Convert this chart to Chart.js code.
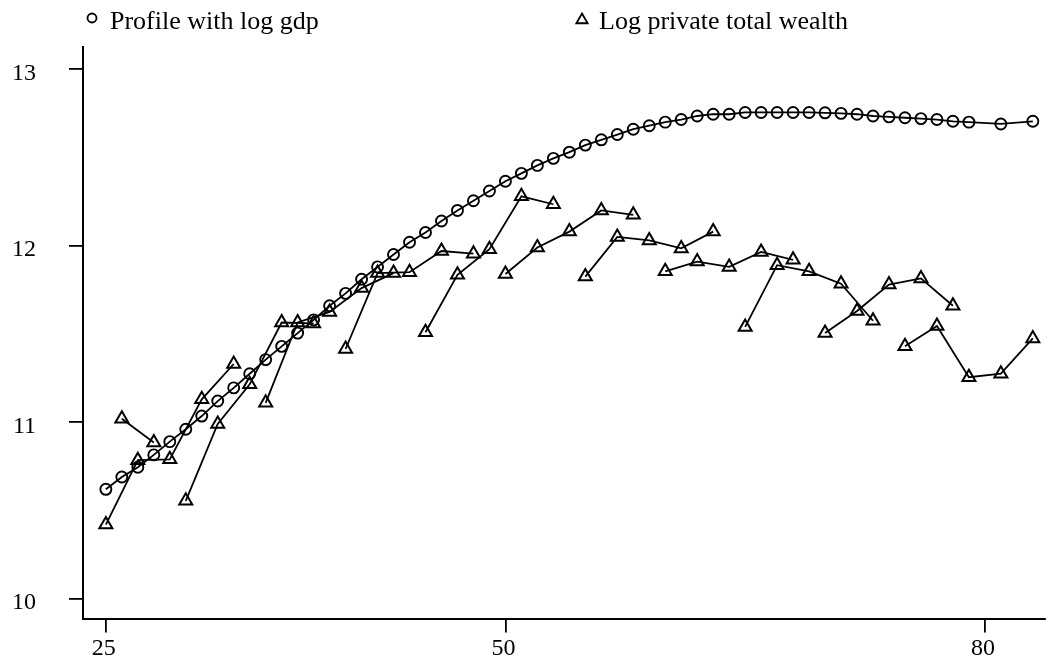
<!DOCTYPE html>
<html>
<head>
<meta charset="utf-8">
<title>Wealth profile by age</title>
<script src="https://cdn.jsdelivr.net/npm/chart.js@4/dist/chart.umd.min.js"></script>
<style>
  html, body { margin: 0; padding: 0; background: #fff; }
  #wrap { width: 1054px; height: 666px; }
</style>
</head>
<body>
<div id="wrap"><canvas id="profileChart" width="1054" height="666"></canvas></div>
<script>
(function () {
  "use strict";

  // age profile fitted with log gdp (one point per age)
  var gdpAges = [
    25, 26, 27, 28, 29, 30, 31, 32, 33, 34,
    35, 36, 37, 38, 39, 40, 41, 42, 43, 44,
    45, 46, 47, 48, 49, 50, 51, 52, 53, 54,
    55, 56, 57, 58, 59, 60, 61, 62, 63, 64,
    65, 66, 67, 68, 69, 70, 71, 72, 73, 74,
    75, 76, 77, 78, 79, 81, 83
  ];
  var gdpProfile = [
    10.62, 10.69, 10.745, 10.815, 10.89, 10.96, 11.035, 11.12, 11.195, 11.275,
    11.355, 11.43, 11.505, 11.58, 11.66, 11.73, 11.81, 11.88, 11.95, 12.02,
    12.075, 12.14, 12.2, 12.255, 12.31, 12.365, 12.41, 12.455, 12.495, 12.53,
    12.57, 12.6, 12.63, 12.66, 12.68, 12.7, 12.715, 12.735, 12.745, 12.745,
    12.755, 12.755, 12.755, 12.755, 12.755, 12.753, 12.75, 12.745, 12.735, 12.73,
    12.725, 12.72, 12.715, 12.705, 12.7, 12.69, 12.705
  ];

  // log private total wealth, one row per cohort
  var wealthAges = [
    [26, 28],
    [25, 27, 29, 31, 33],
    [30, 32, 34, 36, 38],
    [35, 37, 39, 41, 43],
    [40, 42, 44, 46, 48],
    [45, 47, 49, 51, 53],
    [50, 52, 54, 56, 58],
    [55, 57, 59, 61, 63],
    [60, 62, 64, 66, 68],
    [65, 67, 69, 71, 73],
    [70, 72, 74, 76, 78],
    [75, 77, 79, 81, 83]
  ];
  var wealthLogs = [
    [11.02, 10.885],
    [10.42, 10.785, 10.79, 11.13, 11.33],
    [10.555, 10.99, 11.215, 11.565, 11.56],
    [11.11, 11.565, 11.625, 11.76, 11.845],
    [11.415, 11.845, 11.85, 11.97, 11.955],
    [11.51, 11.835, 11.98, 12.28, 12.235],
    [11.84, 11.99, 12.08, 12.2, 12.175],
    [11.825, 12.05, 12.03, 11.985, 12.08],
    [11.855, 11.91, 11.88, 11.965, 11.92],
    [11.54, 11.89, 11.855, 11.785, 11.575],
    [11.505, 11.63, 11.78, 11.815, 11.66],
    [11.43, 11.545, 11.255, 11.275, 11.475]
  ];

  var xTicks = [25, 50, 80];
  var yTicks = [10, 11, 12, 13];
  var legendLabels = ["Profile with log gdp", "Log private total wealth"];

  var serif = "'Liberation Serif', 'Times New Roman', serif";

  function toPoints(xs, ys) {
    return xs.map(function (x, i) {
      return { x: x, y: ys[i] };
    });
  }

  var datasets = [
    {
      label: legendLabels[0],
      data: toPoints(gdpAges, gdpProfile),
      borderColor: "#000",
      borderWidth: 1.8,
      pointStyle: "circle",
      pointRadius: 5.5,
      pointBorderWidth: 1.9,
      pointBorderColor: "#000",
      pointBackgroundColor: "rgba(0,0,0,0)",
      tension: 0
    }
  ];
  wealthAges.forEach(function (ages, c) {
    datasets.push({
      label: legendLabels[1],
      data: toPoints(ages, wealthLogs[c]),
      borderColor: "#000",
      borderWidth: 1.8,
      pointStyle: "triangle",
      pointRadius: 7.5,
      pointBorderWidth: 2,
      pointBorderColor: "#000",
      pointBackgroundColor: "rgba(0,0,0,0)",
      tension: 0
    });
  });

  // legend row across the top, Stata style
  var topLegend = {
    id: "topLegend",
    afterDraw: function (chart) {
      var ctx = chart.ctx;
      ctx.save();
      ctx.strokeStyle = "#000";
      ctx.lineWidth = 1.8;

      ctx.beginPath();
      ctx.arc(92, 18, 4.5, 0, Math.PI * 2);
      ctx.stroke();

      var tx = 582, ty = 20, r = 6.5;
      ctx.beginPath();
      ctx.moveTo(tx, ty - r);
      ctx.lineTo(tx + r * Math.sin(Math.PI / 3), ty + r * 0.5);
      ctx.lineTo(tx - r * Math.sin(Math.PI / 3), ty + r * 0.5);
      ctx.closePath();
      ctx.stroke();

      ctx.fillStyle = "#000";
      ctx.font = "26px " + serif;
      ctx.textBaseline = "alphabetic";
      ctx.textAlign = "left";
      ctx.fillText(legendLabels[0], 110, 29);
      ctx.fillText(legendLabels[1], 599, 29);
      ctx.restore();
    }
  };

  var axisGrid = {
    drawOnChartArea: false,
    drawTicks: true,
    tickLength: 14,
    color: "#000",
    lineWidth: 1.8
  };

  new Chart(document.getElementById("profileChart"), {
    type: "line",
    data: { datasets: datasets },
    plugins: [topLegend],
    options: {
      responsive: false,
      devicePixelRatio: 1,
      animation: false,
      layout: { padding: { top: 45, right: 0, left: 0, bottom: 0 } },
      plugins: {
        legend: { display: false },
        tooltip: { enabled: false }
      },
      scales: {
        x: {
          type: "linear",
          min: 23.57,
          max: 83.73,
          afterBuildTicks: function (scale) {
            scale.ticks = xTicks.map(function (v) { return { value: v }; });
          },
          afterFit: function (scale) {
            scale.height = 45;
          },
          grid: axisGrid,
          border: { display: true, color: "#000", width: 2 },
          ticks: {
            color: "#000",
            font: { family: serif, size: 24 },
            padding: 2,
            labelOffset: -2,
            maxRotation: 0,
            autoSkip: false
          }
        },
        y: {
          type: "linear",
          min: 9.8876,
          max: 13.1236,
          afterBuildTicks: function (scale) {
            scale.ticks = yTicks.map(function (v) { return { value: v }; });
          },
          afterFit: function (scale) {
            scale.width = 83;
          },
          grid: axisGrid,
          border: { display: true, color: "#000", width: 2 },
          ticks: {
            color: "#000",
            font: { family: serif, size: 24 },
            padding: 33,
            labelOffset: 4,
            autoSkip: false
          }
        }
      }
    }
  });
})();
</script>
</body>
</html>
